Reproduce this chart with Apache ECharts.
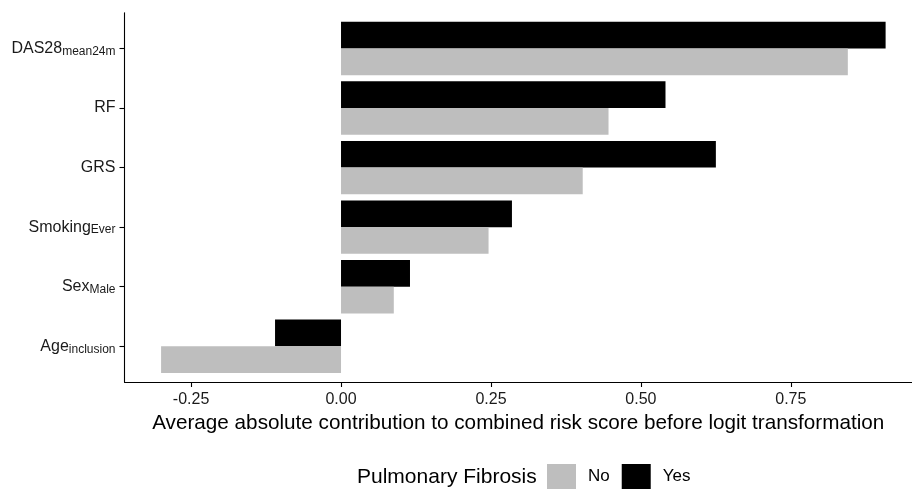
<!DOCTYPE html>
<html>
<head>
<meta charset="utf-8">
<script src="https://cdn.jsdelivr.net/npm/echarts@6/dist/echarts.min.js"></script>
<style>html,body{margin:0;padding:0;background:#fff}#c{width:912px;height:489px}</style>
</head>
<body>
<div id="c"></div>
<script>
const categories = ['DAS28|mean24m', 'RF|', 'GRS|', 'Smoking|Ever', 'Sex|Male', 'Age|inclusion'];
const yesValues = [0.908, 0.541, 0.625, 0.285, 0.115, -0.110];
const noValues  = [0.845, 0.446, 0.403, 0.246, 0.088, -0.300];
const tickValues = [-0.25, 0, 0.25, 0.5, 0.75];

const chart = echarts.init(document.getElementById('c'), null, {renderer: 'canvas'});
const font = 'Liberation Sans, Arial, Helvetica, sans-serif';
const xMin = -0.361, xMax = 0.952;
chart.setOption({
  animation: false,
  textStyle: {fontFamily: font},
  grid: [
    {left: 124.5, top: 18.66, right: 0, bottom: 112.96, containLabel: false},
    {left: 124.5, top: 12.7, right: 0, bottom: 107, containLabel: false}
  ],
  xAxis: [
    {type: 'value', gridIndex: 0, min: xMin, max: xMax, show: false, splitLine: {show: false}},
    {
      type: 'value', gridIndex: 1, min: xMin, max: xMax,
      splitLine: {show: false},
      axisLine: {show: true, onZero: false, lineStyle: {color: '#000', width: 1.1}},
      axisTick: {show: true, length: 5, lineStyle: {color: '#000', width: 1.1}, customValues: tickValues},
      axisLabel: {color: '#1a1a1a', fontSize: 16, fontFamily: font, margin: 10, customValues: tickValues,
        formatter: v => v.toFixed(2)},
      name: 'Average absolute contribution to combined risk score before logit transformation',
      nameLocation: 'middle', nameGap: 30.5,
      nameTextStyle: {color: '#000', fontSize: 20.7, fontFamily: font}
    }
  ],
  yAxis: [
    {
      type: 'category', gridIndex: 0, data: categories, inverse: true,
      axisLine: {show: false, onZero: false},
      axisTick: {show: true, length: 5, alignWithLabel: true, lineStyle: {color: '#000', width: 1.1}},
      axisLabel: {
        margin: 9, fontFamily: font,
        formatter: v => { const p = v.split('|'); return '{m|' + p[0] + '}' + (p[1] ? '{s|' + p[1] + '}' : ''); },
        rich: {
          m: {fontSize: 16, color: '#1a1a1a', fontFamily: font, lineHeight: 18},
          s: {fontSize: 12, color: '#1a1a1a', fontFamily: font, lineHeight: 18, verticalAlign: 'bottom', padding: [9, 0, 0, 0]}
        }
      }
    },
    {
      type: 'value', gridIndex: 1, min: 0, max: 1,
      splitLine: {show: false}, axisTick: {show: false}, axisLabel: {show: false},
      axisLine: {show: true, onZero: false, lineStyle: {color: '#000', width: 1.1}}
    }
  ],
  legend: {
    data: ['No', 'Yes'], left: 547, top: 464, itemWidth: 29, itemHeight: 25, itemGap: 12,
    padding: 0, icon: 'rect',
    textStyle: {fontSize: 17, color: '#000', fontFamily: font, padding: [0, 0, 0, 7]}
  },
  graphic: [{
    type: 'text', x: 357, y: 477,
    style: {text: 'Pulmonary Fibrosis', fontSize: 21, fill: '#000', fontFamily: font, textVerticalAlign: 'middle'}
  }],
  series: [
    {name: 'Yes', type: 'bar', xAxisIndex: 0, yAxisIndex: 0, data: yesValues, barWidth: '44.8%', barGap: '0%',
     itemStyle: {color: '#000000'}},
    {name: 'No', type: 'bar', xAxisIndex: 0, yAxisIndex: 0, data: noValues, barWidth: '44.8%', barGap: '0%',
     itemStyle: {color: '#BEBEBE'}}
  ]
});
</script>
</body>
</html>
